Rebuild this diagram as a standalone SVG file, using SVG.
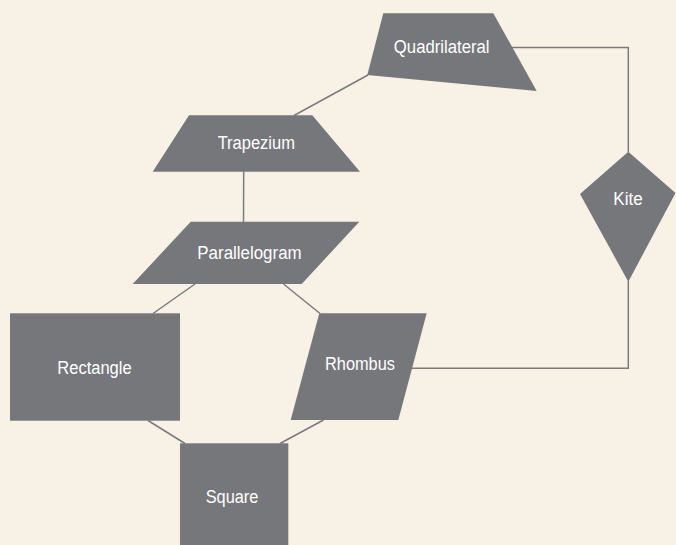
<svg xmlns="http://www.w3.org/2000/svg" width="676" height="545" viewBox="0 0 676 545">
<style>
.bg{fill:#f8f1e6}
.shape{fill:#76777b}
.conn{fill:none;stroke:#7b7b7d;stroke-width:1.5}
.lbl{fill:#ffffff;font-family:"Liberation Sans Narrow","Liberation Sans",Arial,sans-serif;font-size:18px;text-anchor:middle}
</style>
<rect class="bg" x="0" y="0" width="676" height="545"/>
<g id="connectors">
<polyline class="conn" points="510,47.5 628.3,47.5 628.3,152"/>
<polyline class="conn" points="628.3,281 628.3,368.3 410,368.3"/>
<line class="conn" x1="368" y1="75" x2="294" y2="115.5"/>
<line class="conn" x1="243.7" y1="171.5" x2="243.5" y2="222"/>
<line class="conn" x1="195" y1="284" x2="153" y2="313.5"/>
<line class="conn" x1="283.5" y1="284" x2="320" y2="313.5"/>
<line class="conn" x1="148" y1="420.5" x2="185" y2="443.5"/>
<line class="conn" x1="323.5" y1="420" x2="280" y2="443.5"/>
</g>
<g id="quadrilateral">
<polygon class="shape" points="383.3,13.3 493.3,13.3 536.7,91 367.3,75"/>
<text class="lbl" x="441.7" y="52.7" textLength="95.7" lengthAdjust="spacingAndGlyphs">Quadrilateral</text>
</g>
<g id="trapezium">
<polygon class="shape" points="189,115.3 312.3,115.3 360,171.7 152.7,171.7"/>
<text class="lbl" x="256.3" y="149" textLength="77.3" lengthAdjust="spacingAndGlyphs">Trapezium</text>
</g>
<g id="parallelogram">
<polygon class="shape" points="190.7,221.7 359.3,221.7 301.7,284 132.7,284"/>
<text class="lbl" x="249.5" y="259" textLength="104.3" lengthAdjust="spacingAndGlyphs">Parallelogram</text>
</g>
<g id="rectangle">
<rect class="shape" x="10" y="313.3" width="170" height="107.4"/>
<text class="lbl" x="94.5" y="374" textLength="74.3" lengthAdjust="spacingAndGlyphs">Rectangle</text>
</g>
<g id="rhombus">
<polygon class="shape" points="319.3,313.3 426.7,313.3 398.3,420 290.7,420"/>
<text class="lbl" x="360" y="370" textLength="70" lengthAdjust="spacingAndGlyphs">Rhombus</text>
</g>
<g id="square">
<rect class="shape" x="180" y="443.3" width="108.3" height="110"/>
<text class="lbl" x="232" y="502.7" textLength="52.7" lengthAdjust="spacingAndGlyphs">Square</text>
</g>
<g id="kite">
<polygon class="shape" points="628.3,151.7 675.5,193 628.3,281.7 580,194"/>
<text class="lbl" x="628" y="205" textLength="29.3" lengthAdjust="spacingAndGlyphs">Kite</text>
</g>
</svg>
